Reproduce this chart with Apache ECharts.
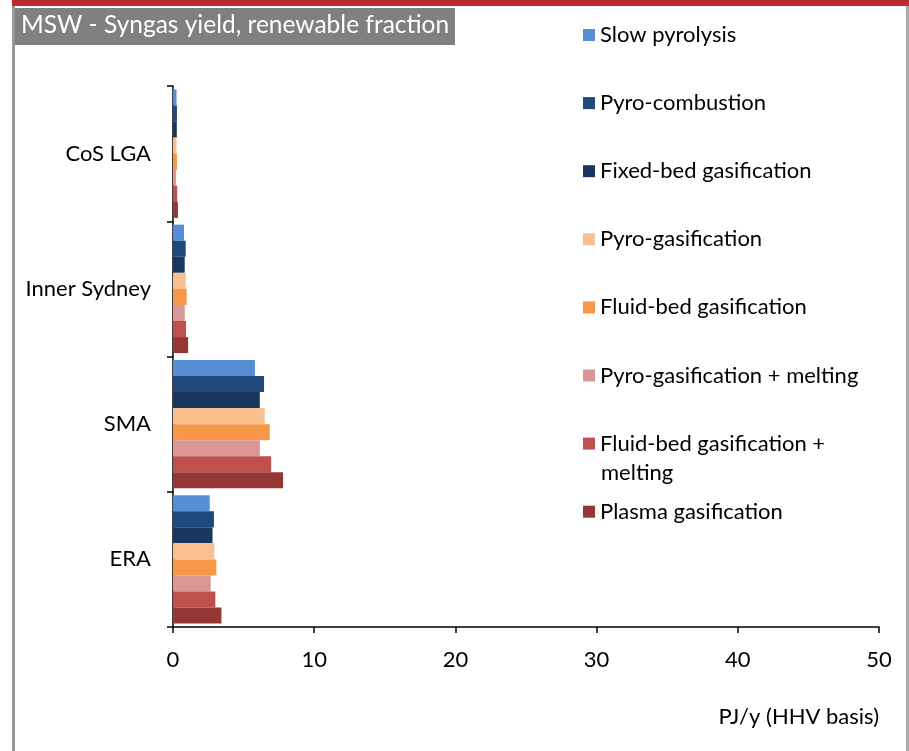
<!DOCTYPE html>
<html>
<head>
<meta charset="utf-8">
<script src="https://cdn.jsdelivr.net/npm/echarts@6/dist/echarts.min.js"></script>
<style>
  html, body { margin: 0; padding: 0; background: #fff; }
  #chart { width: 909px; height: 751px; }
</style>
</head>
<body>
<div id="chart"></div>
<script>
// regions, top to bottom
const regions = ['CoS LGA', 'Inner Sydney', 'SMA', 'ERA'];

const techNames = [
  'Slow pyrolysis',
  'Pyro-combustion',
  'Fixed-bed gasification',
  'Pyro-gasification',
  'Fluid-bed gasification',
  'Pyro-gasification + melting',
  'Fluid-bed gasification + melting',
  'Plasma gasification'
];

// PJ/y per region (CoS LGA, Inner Sydney, SMA, ERA)
const slowPyrolysis   = [0.25, 0.78, 5.8, 2.6];
const pyroCombustion  = [0.28, 0.9, 6.45, 2.9];
const fixedBed        = [0.27, 0.83, 6.15, 2.8];
const pyroGas         = [0.25, 0.9, 6.5, 2.93];
const fluidBed        = [0.28, 0.97, 6.85, 3.07];
const pyroGasMelt     = [0.22, 0.83, 6.15, 2.67];
const fluidBedMelt    = [0.3, 0.92, 6.95, 3.0];
const plasma          = [0.35, 1.07, 7.8, 3.43];

const xTicks = [0, 10, 20, 30, 40, 50];

const values = [slowPyrolysis, pyroCombustion, fixedBed, pyroGas, fluidBed, pyroGasMelt, fluidBedMelt, plasma];
const colors = ['#558ED5', '#1F487C', '#17375E', '#FAC090', '#F79646', '#D99694', '#C0504D', '#953735'];

const FONT = 'Lato';
const FS = 22;

const chart = echarts.init(document.getElementById('chart'), null, { renderer: 'canvas' });

let series = [];
let legends = [];
techNames.forEach((name, i) => {
  series.push({
    name: name,
    type: 'bar',
    data: values[i],
    barGap: '0%',
    barCategoryGap: '5%',
    itemStyle: { color: colors[i] },
    animation: false
  });
  let lg = {
    data: [name],
    orient: 'vertical',
    left: 578,
    top: 17 + i * 68.1,
    itemWidth: 12,
    itemHeight: 12,
    itemGap: 0,
    icon: 'rect',
    textStyle: { fontFamily: FONT, fontSize: FS, lineHeight: 26, color: '#000' }
  };
  if (name === 'Fluid-bed gasification + melting') {
    // second line drawn as a graphic text below
    lg.formatter = 'Fluid-bed gasification +';
  }
  legends.push(lg);
});

const option = {
  animation: false,
  backgroundColor: '#fff',
  legend: legends,
  grid: { left: 173, right: 30, top: 86, bottom: 124, containLabel: false },
  xAxis: {
    type: 'value',
    min: 0,
    max: 50,
    interval: 10,
    name: 'PJ/y (HHV basis)',
    nameLocation: 'end',
    nameGap: 0,
    nameTextStyle: {
      fontFamily: FONT, fontSize: FS, color: '#000',
      align: 'right', verticalAlign: 'top', padding: [79, 0, 0, 0]
    },
    axisLine: { show: true, lineStyle: { color: '#000', width: 1.5 } },
    axisTick: { show: true, length: 6, lineStyle: { color: '#000', width: 1.5 } },
    splitLine: { show: false },
    axisLabel: {
      fontFamily: FONT, fontSize: FS, color: '#000', margin: 22,
      formatter: v => xTicks.includes(v) ? String(v) : ''
    }
  },
  yAxis: {
    type: 'category',
    data: regions,
    inverse: true,
    axisLine: { show: true, lineStyle: { color: '#000', width: 1.5 } },
    axisTick: { show: true, length: 6, lineStyle: { color: '#000', width: 1.5 } },
    axisLabel: { fontFamily: FONT, fontSize: FS, color: '#000', margin: 22 }
  },
  graphic: [
    { type: 'rect', shape: { x: 12, y: 0, width: 897, height: 6 }, style: { fill: '#BE2A31' }, silent: true },
    { type: 'rect', shape: { x: 12, y: 6, width: 3, height: 745 }, style: { fill: '#999' }, silent: true },
    { type: 'rect', shape: { x: 906, y: 6, width: 3, height: 745 }, style: { fill: '#aaa' }, silent: true },
    { type: 'rect', shape: { x: 15, y: 8, width: 440, height: 37 }, style: { fill: '#808080' }, silent: true },
    {
      type: 'text', left: 21, top: 13,
      style: { text: 'MSW - Syngas yield, renewable fraction', fontFamily: FONT, fontSize: 24.5, fill: '#fff' },
      silent: true
    },
    {
      type: 'text', left: 601, top: 462,
      style: { text: 'melting', fontFamily: FONT, fontSize: FS, fill: '#000' },
      silent: true
    }
  ],
  series: series
};

chart.setOption(option);
</script>
</body>
</html>
